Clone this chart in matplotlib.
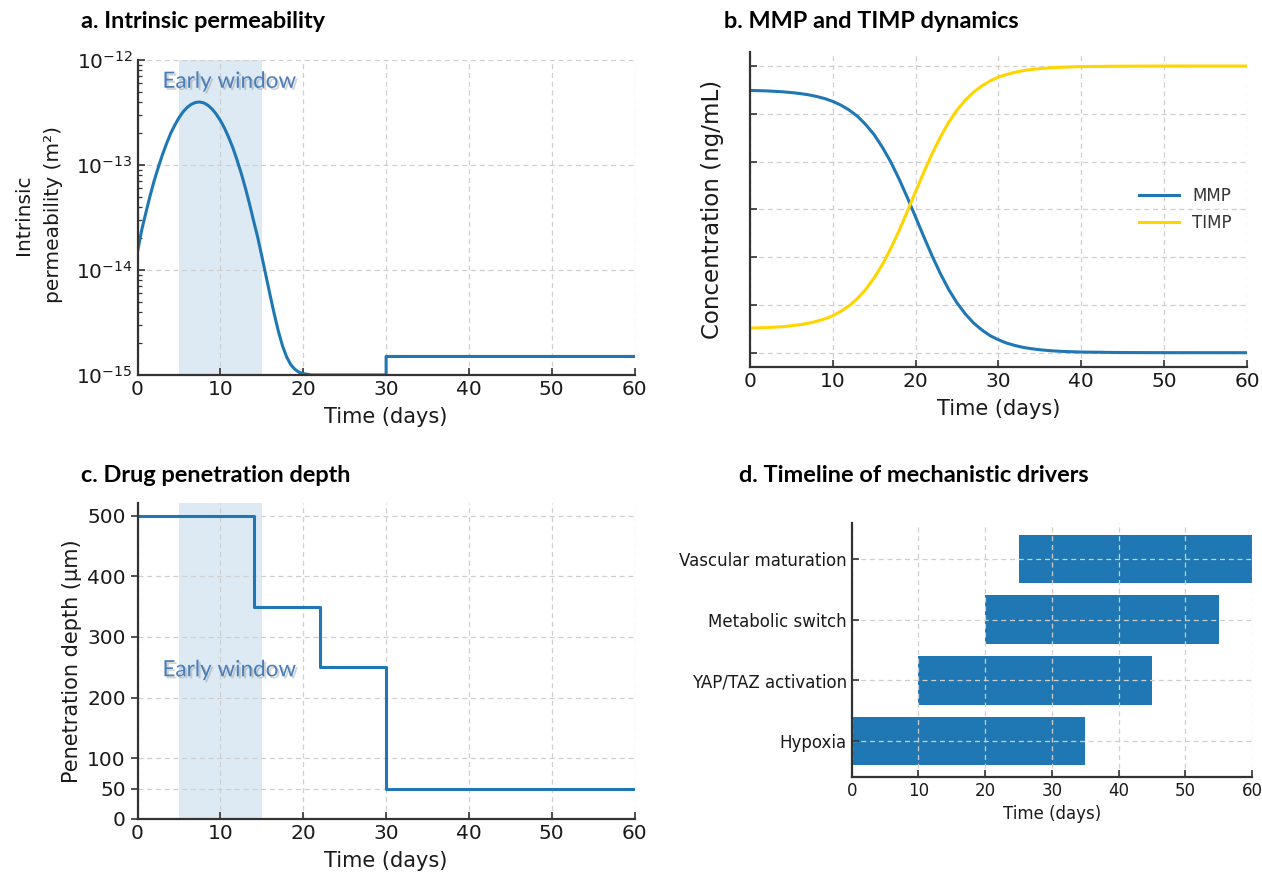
import matplotlib
matplotlib.use("Agg")
import matplotlib.pyplot as plt
import matplotlib.patheffects as pe
from matplotlib.ticker import LogLocator, NullFormatter

# ---------------- data ----------------
# a. Intrinsic permeability (m^2) vs time (days)
perm_days = [0, 0.5, 1, 1.5, 2, 2.5, 3, 3.5, 4, 4.5, 5, 5.5, 6, 6.5, 7, 7.5,
             8, 8.5, 9, 9.5, 10, 10.5, 11, 11.5, 12, 12.5, 13, 13.5, 14, 14.5,
             15, 15.5, 16, 16.5, 17, 17.5, 18, 18.5, 19, 19.5, 20, 21, 30, 30, 60]
perm_vals = [1.5e-14, 2.4e-14, 3.5e-14, 5.05e-14, 7.05e-14, 9.5e-14, 1.25e-13,
             1.6e-13, 2.0e-13, 2.4e-13, 2.82e-13, 3.21e-13, 3.54e-13, 3.79e-13,
             3.94e-13, 3.98e-13, 3.9e-13, 3.7e-13, 3.41e-13, 3.05e-13, 2.65e-13,
             2.24e-13, 1.83e-13, 1.46e-13, 1.12e-13, 8.4e-14, 6.1e-14, 4.3e-14,
             2.95e-14, 2.05e-14, 1.35e-14, 8.8e-15, 5.75e-15, 3.8e-15, 2.6e-15,
             1.89e-15, 1.48e-15, 1.25e-15, 1.13e-15, 1.06e-15, 1.03e-15, 1.0e-15,
             1.0e-15, 1.5e-15, 1.5e-15]
early_window = (5, 15)

# b. MMP and TIMP concentrations (ng/mL)
conc_days = list(range(0, 41)) + [45, 50, 55, 60]
mmp_vals = [109.8, 109.7, 109.6, 109.4, 109.2, 108.9, 108.5, 108.0, 107.3, 106.4,
            105.2, 103.6, 101.5, 98.9, 95.4, 91.2, 85.9, 79.8, 72.7, 64.9,
            56.7, 48.4, 40.4, 33.0, 26.4, 20.8, 16.2, 12.4, 9.5, 7.1,
            5.4, 4.0, 3.0, 2.2, 1.65, 1.23, 0.91, 0.67, 0.5, 0.37,
            0.27, 0.06, 0.01, 0.0, 0.0]
timp_vals = [10.3, 10.4, 10.5, 10.7, 10.9, 11.3, 11.7, 12.3, 13.1, 14.1,
             15.5, 17.4, 19.7, 22.8, 26.6, 31.4, 37.0, 43.7, 51.1, 59.2,
             67.5, 75.7, 83.4, 90.4, 96.5, 101.6, 105.8, 109.1, 111.7, 113.8,
             115.4, 116.5, 117.4, 118.1, 118.6, 118.9, 119.2, 119.4, 119.55, 119.67,
             119.76, 119.95, 119.99, 120.0, 120.0]
conc_ticks = [0, 20, 40, 60, 80, 100, 120]

# c. Drug penetration depth (um)
depth_days = [0, 14, 22, 30, 60]
depth_vals = [500, 350, 250, 50, 50]
depth_ticks = [0, 50, 100, 200, 300, 400, 500]

# d. Timeline of mechanistic drivers
drivers = ["Hypoxia", "YAP/TAZ activation", "Metabolic switch", "Vascular maturation"]
driver_start = [0, 10, 20, 25]
driver_end = [35, 45, 55, 60]

# ---------------- style ----------------
BLUE = "#1f77b4"
GOLD = "#FFD500"
SPINE = "#333333"
TXT = "#1a1a1a"
GRID = dict(color="#cfcfcf", linestyle=(0, (4, 3)), linewidth=0.9)
TITLE_FONT = "Lato"
plt.rcParams["font.family"] = ["DejaVu Sans"]

fig = plt.figure(figsize=(12.62, 8.72), dpi=100)


def style_axes(ax, tick_size=14.5):
    for s in ("top", "right"):
        ax.spines[s].set_visible(False)
    for s in ("left", "bottom"):
        ax.spines[s].set_color(SPINE)
        ax.spines[s].set_linewidth(1.6)
        ax.spines[s].set_zorder(3)
    ax.tick_params(direction="in", length=5, width=1.2, color=SPINE,
                   labelsize=tick_size, labelcolor=TXT)
    ax.grid(True, **GRID)


def shadow_text(ax, x, y, s):
    ax.text(x, y, s, fontsize=16.2, color="#4a7ebb", family=TITLE_FONT,
            ha="left", va="center",
            path_effects=[pe.SimplePatchShadow(offset=(1.5, -1.5),
                                               shadow_rgbFace="#7f7f7f", alpha=0.35),
                          pe.Normal()])


# ---- a ----
ax_a = fig.add_axes([0.1090, 0.5700, 0.3939, 0.3612])
style_axes(ax_a)
ax_a.axvspan(*early_window, color=BLUE, alpha=0.15, lw=0)
ax_a.plot(perm_days, perm_vals, color=BLUE, lw=2.2)
ax_a.set_yscale("log")
ax_a.set_ylim(1e-15, 1e-12)
ax_a.set_xlim(0, 60)
ax_a.yaxis.set_major_locator(LogLocator(base=10, numticks=10))
ax_a.yaxis.set_minor_locator(LogLocator(base=10, subs=range(2, 10), numticks=10))
ax_a.yaxis.set_minor_formatter(NullFormatter())
ax_a.tick_params(which="minor", direction="in", length=3, width=0.9, color=SPINE)
ax_a.grid(False, which="minor")
ax_a.set_xlabel("Time (days)", fontsize=15, color=TXT, labelpad=6)
ax_a.set_ylabel("Intrinsic\npermeability (m\u00b2)", fontsize=14.5, color=TXT,
                linespacing=1.75)
ax_a.yaxis.set_label_coords(-0.2, 0.51)
ax_a.yaxis.label.set_verticalalignment("center")
shadow_text(ax_a, 3, 6.2e-13, "Early window")

# ---- b ----
ax_b = fig.add_axes([0.5943, 0.5791, 0.3938, 0.3616])
style_axes(ax_b)
ax_b.plot(conc_days, mmp_vals, color=BLUE, lw=2.2, label="MMP")
ax_b.plot(conc_days, timp_vals, color=GOLD, lw=2.2, label="TIMP")
ax_b.set_xlim(0, 60)
ax_b.set_ylim(-6, 126)
ax_b.set_yticks(conc_ticks)
ax_b.set_yticklabels([])
ax_b.set_xlabel("Time (days)", fontsize=15, color=TXT, labelpad=6)
ax_b.set_ylabel("Concentration (ng/mL)", fontsize=16.5, color=TXT)
ax_b.yaxis.set_label_coords(-0.075, 0.5)
ax_b.yaxis.label.set_verticalalignment("center")
ax_b.legend(loc="center right", frameon=False, fontsize=12, handlelength=2.4,
            labelcolor="#333333")

# ---- c ----
ax_c = fig.add_axes([0.1090, 0.0608, 0.3939, 0.3619])
style_axes(ax_c)
ax_c.tick_params(axis="y", direction="out")
ax_c.axvspan(*early_window, color=BLUE, alpha=0.15, lw=0)
ax_c.step(depth_days, depth_vals, where="post", color=BLUE, lw=2.2)
ax_c.set_xlim(0, 60)
ax_c.set_ylim(0, 520)
ax_c.set_yticks(depth_ticks)
ax_c.set_xlabel("Time (days)", fontsize=15, color=TXT, labelpad=6)
ax_c.set_ylabel("Penetration depth (\u00b5m)", fontsize=15, color=TXT)
ax_c.yaxis.set_label_coords(-0.132, 0.5)
ax_c.yaxis.label.set_verticalalignment("center")
shadow_text(ax_c, 3, 245, "Early window")

# ---- d ----
ax_d = fig.add_axes([0.6749, 0.1089, 0.3172, 0.2913])
style_axes(ax_d, tick_size=12)
ypos = list(range(len(drivers)))
widths = [e - s for s, e in zip(driver_start, driver_end)]
ax_d.barh(ypos, widths, left=driver_start, height=0.8, color=BLUE, zorder=1)
ax_d.set_axisbelow("line")
ax_d.set_yticks(ypos)
ax_d.set_yticklabels(drivers)
ax_d.set_xlim(0, 60)
ax_d.set_xlabel("Time (days)", fontsize=12, color=TXT)

# ---- titles ----
tkw = dict(fontsize=16.9, fontweight="bold", family=TITLE_FONT, ha="left", va="center")
fig.text(81 / 1262, 1 - 22 / 872, "a. Intrinsic permeability", **tkw)
fig.text(724 / 1262, 1 - 22 / 872, "b. MMP and TIMP dynamics", **tkw)
fig.text(81 / 1262, 1 - 476 / 872, "c. Drug penetration depth", **tkw)
fig.text(739 / 1262, 1 - 476 / 872, "d. Timeline of mechanistic drivers", **tkw)

fig.savefig("out.png", dpi=100, facecolor="white")
